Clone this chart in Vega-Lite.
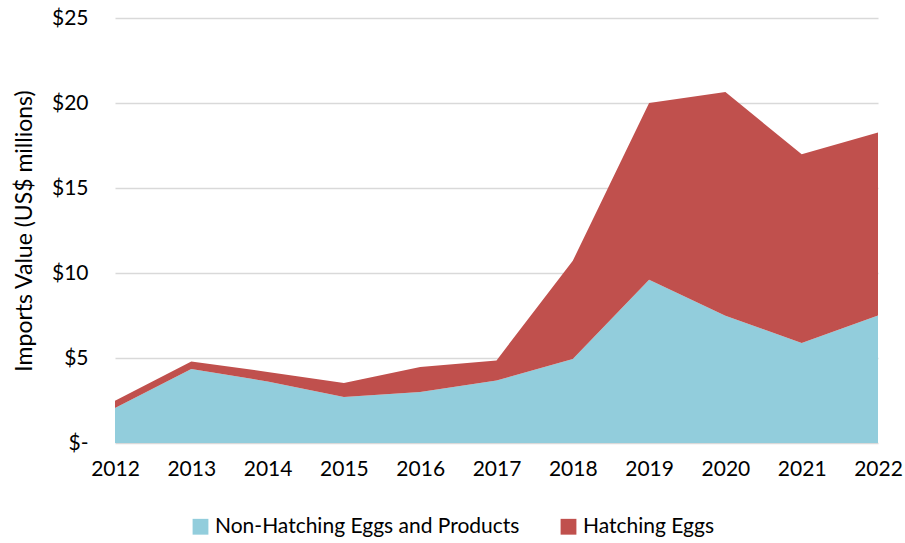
{
  "$schema": "https://vega.github.io/schema/vega-lite/v6.json",
  "autosize": "none",
  "width": 763,
  "height": 425,
  "padding": {"left": 115, "top": 18, "right": 27, "bottom": 100},
  "background": "white",
  "config": {
    "font": "Lato",
    "view": {"stroke": null}
  },
  "data": {
    "values": [
      {"year": 2012, "series": "Non-Hatching Eggs and Products", "value": 2.06},
      {"year": 2013, "series": "Non-Hatching Eggs and Products", "value": 4.35},
      {"year": 2014, "series": "Non-Hatching Eggs and Products", "value": 3.62},
      {"year": 2015, "series": "Non-Hatching Eggs and Products", "value": 2.7},
      {"year": 2016, "series": "Non-Hatching Eggs and Products", "value": 3.0},
      {"year": 2017, "series": "Non-Hatching Eggs and Products", "value": 3.68},
      {"year": 2018, "series": "Non-Hatching Eggs and Products", "value": 4.94},
      {"year": 2019, "series": "Non-Hatching Eggs and Products", "value": 9.6},
      {"year": 2020, "series": "Non-Hatching Eggs and Products", "value": 7.49},
      {"year": 2021, "series": "Non-Hatching Eggs and Products", "value": 5.88},
      {"year": 2022, "series": "Non-Hatching Eggs and Products", "value": 7.5},
      {"year": 2012, "series": "Hatching Eggs", "value": 0.43},
      {"year": 2013, "series": "Hatching Eggs", "value": 0.45},
      {"year": 2014, "series": "Hatching Eggs", "value": 0.56},
      {"year": 2015, "series": "Hatching Eggs", "value": 0.83},
      {"year": 2016, "series": "Hatching Eggs", "value": 1.47},
      {"year": 2017, "series": "Hatching Eggs", "value": 1.18},
      {"year": 2018, "series": "Hatching Eggs", "value": 5.78},
      {"year": 2019, "series": "Hatching Eggs", "value": 10.4},
      {"year": 2020, "series": "Hatching Eggs", "value": 13.16},
      {"year": 2021, "series": "Hatching Eggs", "value": 11.1},
      {"year": 2022, "series": "Hatching Eggs", "value": 10.77}
    ]
  },
  "mark": {"type": "area", "opacity": 1},
  "encoding": {
    "x": {
      "field": "year",
      "type": "quantitative",
      "scale": {"domain": [2012, 2022], "nice": false, "zero": false},
      "axis": {
        "values": [2012, 2013, 2014, 2015, 2016, 2017, 2018, 2019, 2020, 2021, 2022],
        "format": "d",
        "title": null,
        "grid": false,
        "domain": false,
        "ticks": false,
        "labelFontSize": 21,
        "labelColor": "#000000",
        "labelPadding": 15,
        "labelFlush": false
      }
    },
    "y": {
      "field": "value",
      "type": "quantitative",
      "stack": "zero",
      "scale": {"domain": [0, 25], "nice": false},
      "axis": {
        "values": [0, 5, 10, 15, 20, 25],
        "labelExpr": "datum.value == 0 ? '$-' : '$' + datum.value",
        "title": "Imports Value (US$ millions)",
        "titleFontSize": 23,
        "titleFontWeight": "normal",
        "titleColor": "#000000",
        "titlePadding": 15,
        "labelFontSize": 21,
        "labelColor": "#000000",
        "labelPadding": 27,
        "domain": false,
        "ticks": false,
        "gridColor": "#d9d9d9",
        "gridWidth": 1.5
      }
    },
    "color": {
      "field": "series",
      "type": "nominal",
      "scale": {
        "domain": ["Non-Hatching Eggs and Products", "Hatching Eggs"],
        "range": ["#92CDDC", "#C0504D"]
      },
      "legend": {
        "orient": "none",
        "legendX": 75,
        "legendY": 498,
        "direction": "horizontal",
        "title": null,
        "symbolType": "square",
        "symbolSize": 250,
        "symbolStrokeWidth": 0,
        "labelFontSize": 21,
        "labelColor": "#000000",
        "labelLimit": 0,
        "columnPadding": 38
      }
    },
    "order": {"field": "series", "sort": "descending"}
  }
}
